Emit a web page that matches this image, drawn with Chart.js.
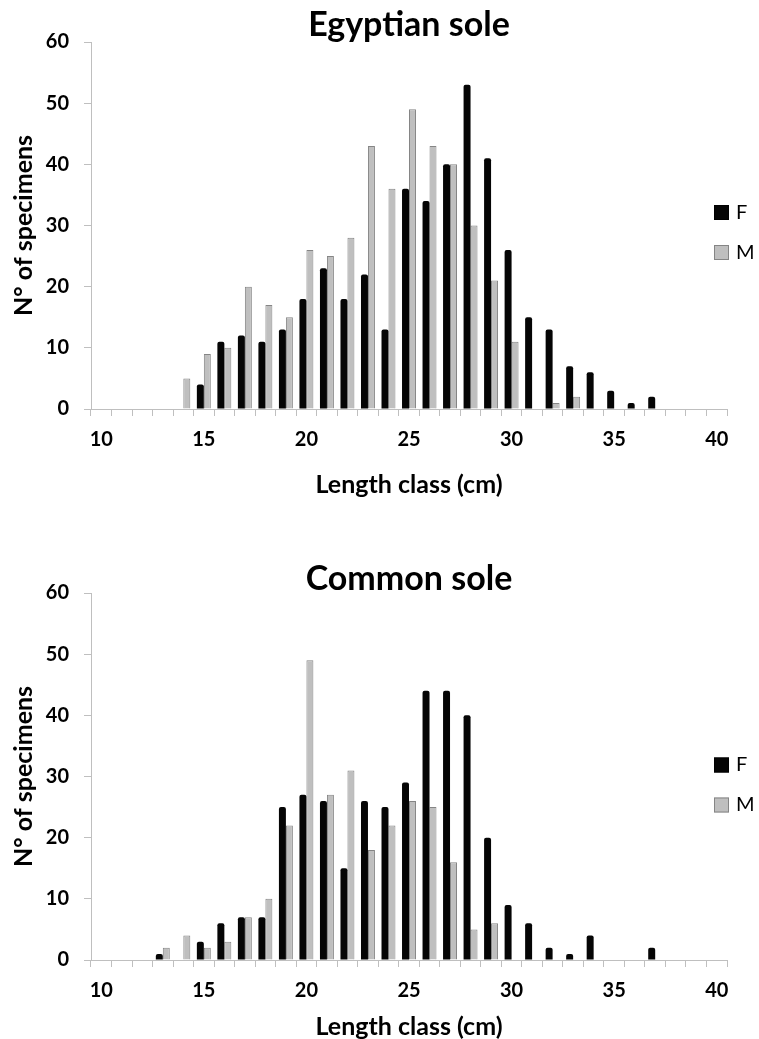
<!DOCTYPE html>
<html>
<head>
<meta charset="utf-8">
<script src="https://cdn.jsdelivr.net/npm/chart.js@4.4.1/dist/chart.umd.min.js"></script>
<style>
html,body{margin:0;padding:0;background:#fff;overflow:hidden;width:759px;height:1039px;}
.box{position:absolute;left:0;width:759px;}
#b1{top:0;height:520px;}
#b2{top:520px;height:540px;}
canvas{display:block;}
</style>
</head>
<body>
<div class="box" id="b1"><canvas id="c1" width="759" height="520"></canvas></div>
<div class="box" id="b2"><canvas id="c2" width="759" height="540"></canvas></div>
<script>
// Length classes (cm)
const lengthClasses = ['10','11','12','13','14','15','16','17','18','19','20','21','22','23','24','25','26','27','28','29','30','31','32','33','34','35','36','37','38','39','40'];
const yTicks = [0, 10, 20, 30, 40, 50, 60];
const seriesNames = ['F', 'M'];

// Egyptian sole
const egyptianF = [null,null,null,null,null,4,11,12,11,13,18,23,18,22,13,36,34,40,53,41,26,15,13,7,6,3,1,2,null,null,null];
const egyptianM = [null,null,null,null,5,9,10,20,17,15,26,25,28,43,36,49,43,40,30,21,11,null,1,2,null,null,null,null,null,null,null];

// Common sole
const commonF = [null,null,null,1,null,3,6,7,7,25,27,26,15,26,25,29,44,44,40,20,9,6,2,1,4,null,null,2,null,null,null];
const commonM = [null,null,null,2,4,2,3,7,10,22,49,27,31,18,22,26,25,16,5,6,null,null,null,null,null,null,null,null,null,null,null];

const FONT = 'Lato';

const manualLegend = {
  id: 'manualLegend',
  afterDraw(chart, args, opts) {
    const ctx = chart.ctx;
    ctx.save();
    chart.data.datasets.forEach((ds, i) => {
      const cy = opts.y[i];
      ctx.fillStyle = ds.backgroundColor;
      ctx.fillRect(opts.x, cy - 7.5, 15, 15);
      ctx.strokeStyle = ds.legendBorder;
      ctx.lineWidth = 1;
      ctx.strokeRect(opts.x + 0.5, cy - 7, 14, 14);
      ctx.fillStyle = '#000';
      ctx.font = '20px ' + FONT;
      ctx.textBaseline = 'middle';
      ctx.textAlign = 'left';
      ctx.fillText(ds.label, opts.x + 22, cy);
    });
    ctx.restore();
  }
};

function makeChart(id, title, fData, mData, g) {
  return new Chart(document.getElementById(id), {
    type: 'bar',
    data: {
      labels: lengthClasses,
      datasets: [
        { label: seriesNames[0], data: fData, backgroundColor: '#050505', borderColor: '#000000', legendBorder: '#000000', borderWidth: 0,
          borderRadius: {topLeft: 2, topRight: 2, bottomLeft: 0, bottomRight: 0}, categoryPercentage: 0.68, barPercentage: 1.0 },
        { label: seriesNames[1], data: mData, backgroundColor: '#bfbfbf', borderColor: '#858585', legendBorder: '#858585', borderWidth: 1,
          categoryPercentage: 0.68, barPercentage: 1.0 }
      ]
    },
    plugins: [manualLegend],
    options: {
      responsive: false,
      animation: false,
      devicePixelRatio: 1,
      layout: { padding: { left: 0, right: 32, top: 0, bottom: 0 } },
      plugins: {
        legend: { display: false },
        tooltip: { enabled: false },
        title: {
          display: true, text: title, color: '#000', fullSize: false,
          font: { family: FONT, weight: 'bold', size: 34, lineHeight: 0.8 },
          padding: { top: g.tTop, bottom: g.tBot }
        },
        manualLegend: { x: 714, y: g.legY }
      },
      scales: {
        x: {
          type: 'category',
          offset: true,
          grid: { offset: true, drawOnChartArea: false, drawTicks: true, tickLength: 7, color: '#bfbfbf', lineWidth: 1 },
          border: { color: '#bfbfbf', width: 1 },
          ticks: {
            autoSkip: false, maxRotation: 0, minRotation: 0, padding: 12, color: '#000',
            font: { family: FONT, weight: 'bold', size: 20 },
            callback: function (v) { const l = this.getLabelForValue(v); return (Number(l) % 5 === 0) ? l : ''; }
          },
          title: {
            display: true, text: 'Length class (cm)', color: '#000',
            font: { family: FONT, weight: 'bold', size: 25, lineHeight: 1.2 },
            padding: { top: 0, bottom: g.xtBot }
          },
          afterFit: s => { s.height = g.xH; }
        },
        y: {
          min: 0, max: 60,
          afterBuildTicks: s => { s.ticks = yTicks.map(v => ({ value: v })); },
          grid: { drawOnChartArea: false, drawTicks: true, tickLength: 7, color: '#bfbfbf', lineWidth: 1 },
          border: { color: '#bfbfbf', width: 1 },
          ticks: { padding: 15, color: '#000', font: { family: FONT, weight: 'bold', size: 20 } },
          title: {
            display: true, text: 'N° of specimens', color: '#000',
            font: { family: FONT, weight: 'bold', size: 25, lineHeight: 1.2 },
            padding: { top: 9, bottom: 0 }
          },
          afterFit: s => { s.width = 91; }
        }
      }
    }
  });
}

makeChart('c1', 'Egyptian sole', egyptianF, egyptianM, { tTop: 11, tBot: 3.8, xH: 111, xtBot: 20, legY: [212.5, 252.5] });
makeChart('c2', 'Common sole', commonF, commonM, { tTop: 45, tBot: 0.8, xH: 100, xtBot: 18, legY: [245, 285] });
</script>
</body>
</html>
